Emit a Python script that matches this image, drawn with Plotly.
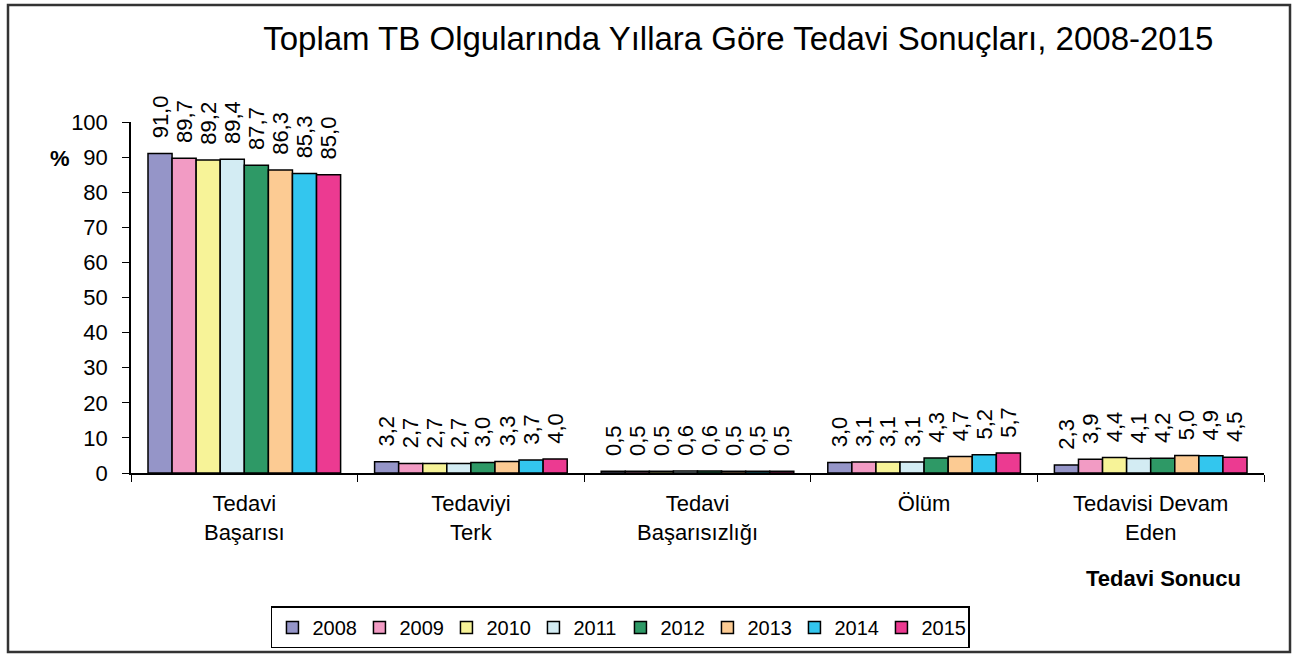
import plotly.graph_objects as go

categories = ["Tedavi<br>Başarısı", "Tedaviyi<br>Terk", "Tedavi<br>Başarısızlığı", "Ölüm", "Tedavisi Devam<br>Eden"]
years = ["2008", "2009", "2010", "2011", "2012", "2013", "2014", "2015"]
values = {
    "2008": [91.0, 3.2, 0.5, 3.0, 2.3],
    "2009": [89.7, 2.7, 0.5, 3.1, 3.9],
    "2010": [89.2, 2.7, 0.5, 3.1, 4.4],
    "2011": [89.4, 2.7, 0.6, 3.1, 4.1],
    "2012": [87.7, 3.0, 0.6, 4.3, 4.2],
    "2013": [86.3, 3.3, 0.5, 4.7, 5.0],
    "2014": [85.3, 3.7, 0.5, 5.2, 4.9],
    "2015": [85.0, 4.0, 0.5, 5.7, 4.5],
}
colors = ["#9595C8", "#F29BC4", "#F7F398", "#D3ECF3", "#2E9966", "#FCCB93", "#33C6EE", "#EC3A91"]

FONT = "Liberation Sans, Arial, sans-serif"

fig = go.Figure()
for yr, col in zip(years, colors):
    fig.add_trace(go.Bar(
        x=categories, y=values[yr], name=yr,
        marker=dict(color=col, line=dict(color="black", width=1.5)),
        texttemplate="\u00a0\u00a0%{y:.1f}", textposition="outside", textangle=-90,
        constraintext="none",
        textfont=dict(size=22, color="black", family=FONT),
        cliponaxis=False,
    ))

fig.update_layout(
    width=1293, height=655,
    paper_bgcolor="white", plot_bgcolor="white",
    separators=", ",
    barmode="group", bargap=0.15, bargroupgap=0,
    margin=dict(l=131, r=29, t=122, b=182, autoexpand=False),
    font=dict(family=FONT, color="black", size=22),
    title=dict(text="Toplam TB Olgularında Yıllara Göre Tedavi Sonuçları, 2008-2015",
               x=0.571, xanchor="center", y=0.942, yanchor="middle",
               font=dict(size=33, family=FONT, color="black")),
    legend=dict(orientation="h", x=0.432, xanchor="center", y=-0.44, yanchor="middle",
                bordercolor="black", borderwidth=1.5, font=dict(size=20, family=FONT),
                itemwidth=30, entrywidth=42, entrywidthmode="pixels", traceorder="normal"),
)
fig.update_yaxes(range=[0, 100], dtick=10, showgrid=False, showline=True, linecolor="black",
                 linewidth=1.5, ticks="outside", ticklen=7, tickcolor="black",
                 tickfont=dict(size=22), zeroline=False, automargin=False,
                 ticklabelstandoff=10)
fig.update_xaxes(showgrid=False, showline=True, linecolor="black", linewidth=1.5,
                 ticks="outside", tickson="boundaries", ticklen=7, tickcolor="black",
                 tickfont=dict(size=22), automargin=False, ticklabelstandoff=10)

fig.add_annotation(text="<b>%</b>", xref="paper", yref="paper",
                   x=(60 - 131) / 1133, y=(473 - 158) / 351, showarrow=False,
                   xanchor="center", yanchor="middle",
                   font=dict(size=22, family=FONT))
fig.add_annotation(text="<b>Tedavi Sonucu</b>", xref="paper", yref="paper",
                   x=(1163 - 131) / 1133, y=(473 - 578) / 351, showarrow=False,
                   xanchor="center", yanchor="middle",
                   font=dict(size=22, family=FONT))
fig.add_shape(type="rect", xref="paper", yref="paper",
              x0=(8 - 131) / 1133, x1=(1290 - 131) / 1133,
              y0=(473 - 652) / 351, y1=(473 - 5) / 351,
              line=dict(color="#333333", width=2.5))

fig.write_html("out.html", config={"displayModeBar": False},
               post_script="document.body.style.margin='0';")
